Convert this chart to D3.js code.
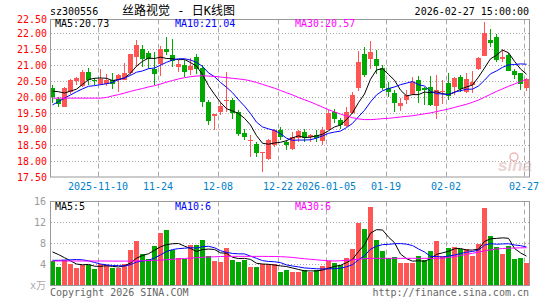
<!DOCTYPE html>
<html>
<head>
<meta charset="utf-8">
<script src="https://cdn.jsdelivr.net/npm/d3@7"></script>
<style>
body{margin:0;background:#fff;}
text{font-family:"DejaVu Sans Mono",monospace;font-size:10px;}
</style>
</head>
<body>
<div id="chart"></div>
<script>
// daily k-line, 80 trading days up to 2026-02-27
var open = [20.31,19.94,19.73,20.18,20.52,20.35,20.79,20.54,20.44,20.44,
  20.56,20.55,20.56,20.75,21.27,21.50,21.40,20.90,21.06,21.53,
  21.34,20.96,21.03,20.86,21.27,20.93,19.85,19.42,19.55,19.90,
  19.92,19.55,18.89,18.66,18.56,18.26,18.09,18.51,19.00,18.61,
  18.40,18.75,18.93,18.75,18.82,18.66,19.00,19.55,19.29,19.10,
  19.50,20.30,21.37,21.20,21.20,20.92,20.30,20.15,19.74,19.92,
  20.12,20.54,20.30,20.33,19.74,20.17,20.44,20.33,20.64,20.17,
  20.40,20.90,21.32,21.79,21.89,21.22,21.34,20.82,20.78,20.28];
var close = [20.02,19.79,20.31,20.56,20.61,20.79,20.54,20.50,20.59,20.56,
  20.44,20.70,20.77,21.35,21.63,21.19,21.22,20.73,21.53,21.43,
  21.16,21.05,20.80,21.00,20.90,19.86,19.27,19.48,19.73,19.92,
  19.50,18.85,18.77,18.68,18.27,18.30,18.67,18.98,18.77,18.51,
  18.77,18.96,18.75,18.82,18.72,19.00,19.52,19.34,19.13,19.55,
  20.07,21.11,20.70,21.42,20.99,20.30,20.17,19.84,19.84,20.09,
  20.49,20.20,20.23,19.76,20.23,20.20,20.02,20.61,20.26,20.57,
  20.50,21.24,22.03,21.69,21.16,21.27,20.85,20.70,20.44,20.57];
var high = [20.38,20.02,20.33,20.58,20.65,20.85,20.93,20.60,20.90,20.75,
  20.77,20.72,21.08,21.37,21.79,21.63,21.46,21.43,21.60,21.89,
  21.84,21.16,21.18,21.25,21.37,21.03,19.92,19.50,19.86,20.80,
  19.97,19.60,19.03,18.82,18.61,18.30,18.69,19.03,19.08,18.66,
  18.93,18.98,19.03,18.87,18.98,19.08,19.60,19.65,19.37,19.71,
  20.18,21.45,21.58,21.76,21.48,21.03,20.47,20.23,19.97,20.23,
  20.64,20.66,20.33,20.68,20.70,20.54,20.78,20.64,20.70,20.78,
  20.82,21.27,22.36,22.13,22.00,21.53,21.40,20.90,20.78,20.61];
var low = [19.83,19.69,19.69,20.12,20.38,20.33,20.38,20.38,20.38,20.36,
  20.28,20.18,20.54,20.70,20.96,20.96,20.90,20.38,20.66,21.32,
  20.96,20.80,20.64,20.70,20.75,19.70,19.13,19.00,19.45,19.55,
  19.34,18.79,18.66,18.14,18.14,17.68,18.04,18.46,18.66,18.35,
  18.37,18.61,18.61,18.61,18.61,18.51,18.98,19.21,19.03,19.08,
  19.48,20.20,20.64,20.90,20.75,20.23,20.02,19.55,19.57,19.81,
  20.07,19.84,19.76,19.74,19.34,19.81,19.91,20.07,20.17,20.15,
  20.15,20.85,21.30,21.58,21.11,21.11,20.82,20.59,20.23,20.20];
var ma5 = [20.20,20.18,20.14,20.20,20.26,20.41,20.56,20.60,20.61,20.60,
  20.53,20.56,20.61,20.76,20.98,21.13,21.23,21.22,21.26,21.22,
  21.21,21.18,21.19,21.09,20.98,20.72,20.37,20.10,19.85,19.65,
  19.58,19.50,19.35,19.14,18.81,18.57,18.54,18.58,18.60,18.65,
  18.74,18.80,18.75,18.76,18.80,18.85,18.96,19.08,19.14,19.31,
  19.52,19.84,20.11,20.57,20.86,20.90,20.72,20.54,20.23,20.05,
  20.09,20.09,20.17,20.15,20.18,20.12,20.09,20.16,20.26,20.33,
  20.39,20.64,20.92,21.21,21.32,21.48,21.40,21.13,20.89,20.73];
var ma10 = [19.77,19.87,19.98,20.08,20.18,20.27,20.35,20.37,20.40,20.43,
  20.47,20.56,20.61,20.69,20.79,20.83,20.90,20.92,21.01,21.10,
  21.17,21.21,21.21,21.17,21.10,20.97,20.77,20.65,20.47,20.32,
  20.15,19.93,19.73,19.50,19.23,19.08,19.02,18.97,18.87,18.73,
  18.66,18.67,18.67,18.68,18.73,18.80,18.88,18.92,18.95,19.06,
  19.19,19.40,19.60,19.86,20.08,20.21,20.28,20.33,20.40,20.45,
  20.50,20.40,20.36,20.19,20.12,20.11,20.09,20.17,20.21,20.26,
  20.26,20.36,20.54,20.74,20.83,20.94,21.02,21.03,21.05,21.04];
var ma30 = [19.98,19.98,19.98,19.98,19.98,19.98,19.98,19.98,19.98,20.00,
  20.05,20.09,20.14,20.19,20.24,20.28,20.33,20.37,20.42,20.48,
  20.53,20.58,20.62,20.65,20.67,20.68,20.67,20.66,20.64,20.62,
  20.60,20.58,20.56,20.52,20.47,20.41,20.35,20.29,20.22,20.15,
  20.08,20.00,19.93,19.86,19.78,19.70,19.62,19.55,19.48,19.42,
  19.37,19.33,19.31,19.31,19.32,19.34,19.35,19.37,19.39,19.41,
  19.43,19.46,19.49,19.52,19.56,19.60,19.64,19.69,19.74,19.79,
  19.85,19.92,20.01,20.10,20.19,20.27,20.35,20.42,20.50,20.57];

// volume, unit 万
var vol = [4.57,3.43,4.70,4.06,3.24,3.81,3.81,2.99,3.94,3.81,
  3.18,3.30,4.06,6.61,8.33,5.85,4.89,7.43,9.85,10.42,
  6.73,5.08,4.95,7.56,7.62,8.50,5.58,4.57,4.38,7.11,
  4.76,4.38,4.70,3.43,3.43,4.06,4.06,4.00,2.55,2.80,
  2.55,2.55,2.80,2.55,2.90,3.60,4.50,4.20,3.80,5.20,
  6.80,11.90,10.60,14.90,8.50,6.50,5.10,5.30,4.10,4.10,
  4.10,5.50,4.80,6.50,8.30,5.50,7.00,7.20,6.80,6.80,
  5.50,7.80,14.60,9.30,7.20,6.00,7.40,4.90,5.10,4.10];
var vma5 = [6.30,5.80,5.20,4.60,4.00,3.85,3.92,3.58,3.56,3.67,
  3.55,3.44,3.66,4.19,5.10,5.63,5.95,6.62,7.27,7.69,
  7.86,7.90,7.41,6.95,6.39,6.74,6.84,6.77,6.13,6.03,
  5.28,5.04,5.07,4.88,4.14,4.00,3.94,3.80,3.64,3.52,
  3.24,2.96,2.69,2.69,2.67,2.86,3.22,3.53,3.75,4.26,
  4.90,6.38,7.66,9.88,10.54,10.48,9.12,8.06,5.90,5.02,
  4.54,4.62,4.52,5.00,5.84,6.12,6.42,6.90,6.96,6.66,
  6.66,6.82,8.30,8.80,8.88,8.98,8.90,6.96,6.12,5.50];
var vma10 = [4.70,4.70,4.75,4.80,4.85,4.80,4.60,4.30,4.00,3.84,
  3.70,3.68,3.62,3.88,4.38,4.59,4.70,5.14,5.73,6.39,
  6.75,6.93,7.01,7.11,7.04,7.30,7.37,7.09,6.54,6.21,
  6.01,5.94,5.92,5.50,5.08,4.64,4.49,4.43,4.26,3.83,
  3.62,3.45,3.25,3.17,3.09,3.05,3.09,3.11,3.22,3.47,
  3.88,4.80,5.59,6.82,7.40,7.69,7.75,7.86,7.89,7.78,
  7.51,6.87,6.29,5.45,5.43,5.33,5.52,5.71,5.98,6.25,
  6.39,6.62,7.60,7.88,7.77,7.82,7.86,7.63,7.50,7.23];
var vma30 = [4.57,4.57,4.57,4.57,4.57,4.57,4.57,4.57,4.57,4.57,
  4.55,4.55,4.55,4.55,4.58,4.62,4.66,4.70,4.75,4.82,
  4.90,4.98,5.05,5.12,5.20,5.28,5.33,5.38,5.42,5.45,
  5.46,5.46,5.46,5.45,5.45,5.45,5.44,5.43,5.40,5.34,
  5.25,5.12,5.00,4.90,4.80,4.70,4.62,4.57,4.62,4.70,
  4.80,4.90,5.00,5.08,5.08,5.08,5.08,5.08,5.08,5.08,
  5.08,5.08,5.08,5.08,5.08,5.10,5.25,5.40,5.60,5.85,
  6.05,6.25,6.50,6.70,6.85,6.95,7.00,7.05,7.08,7.10];

var tickIdx = [8,18,28,38,46,56,66,79];
var tickLabels = ["2025-11-10","11-24","12-08","12-22","2026-01-05","01-19","02-02","02-27"];
var priceTicks = [17.5,18,18.5,19,19.5,20,20.5,21,21.5,22,22.5];
var volTicks = [4,8,12,16];

var RED = "#ff5555", GREEN = "#00a800", GRID = "#aaa";

var svg = d3.select('#chart').append('svg')
  .attr('width', 545).attr('height', 300);

var x = d3.scaleLinear().domain([0, 80]).range([50, 530]);
var y = d3.scaleLinear().domain([17.5, 22.5]).range([177.5, 17.5]);
var yv = d3.scaleLinear().domain([0, 16]).range([285, 201]);

function up(i){ return close[i] >= open[i]; }

// ---- header
svg.append("text").attr("x", 50).attr("y", 15).text("sz300556");
svg.append("text").attr("x", 122).attr("y", 15)
  .style("font-family", '"DejaVu Sans Mono","Noto Sans CJK SC",monospace')
  .style("font-size", "12px")
  .text("丝路视觉 - 日K线图");
svg.append("text").attr("x", 529).attr("y", 15).attr("text-anchor", "end")
  .text("2026-02-27 15:00:00");

// ---- grids
var grid = svg.append("g").attr("stroke", GRID).attr("fill", "none");
grid.selectAll(".hp").data(priceTicks.slice(1, -1)).enter().append("line")
  .attr("x1", 51).attr("x2", 529)
  .attr("y1", function(d){ return y(d); }).attr("y2", function(d){ return y(d); })
  .attr("stroke-dasharray", "1,2");
grid.selectAll(".hv").data(volTicks.slice(0, -1)).enter().append("line")
  .attr("x1", 51).attr("x2", 529)
  .attr("y1", function(d){ return yv(d) + 0.5; }).attr("y2", function(d){ return yv(d) + 0.5; })
  .attr("stroke-dasharray", "1,2");
[[19.5, 177], [201.5, 285]].forEach(function(r){
  grid.selectAll(null).data(tickIdx).enter().append("line")
    .attr("x1", function(d){ return x(d) + 0.5; }).attr("x2", function(d){ return x(d) + 0.5; })
    .attr("y1", r[0]).attr("y2", r[1])
    .attr("stroke-dasharray", "5,3");
});

// sina watermark
var wm = svg.append("g").attr("opacity", 0.55);
wm.append("text").attr("x", 498).attr("y", 171)
  .style("font-family", "Liberation Sans,Arial,sans-serif")
  .style("font-size", "17px").style("font-style", "italic").style("font-weight", "bold")
  .attr("fill", "#d8b0b0").text("sina");
wm.append("circle").attr("cx", 514).attr("cy", 157).attr("r", 4)
  .attr("fill", "none").attr("stroke", "#e08080").attr("stroke-width", 1.5);

// ---- candles
var idx = d3.range(close.length);
var cg = svg.append("g");
cg.selectAll(".wick").data(idx).enter().append("line")
  .attr("x1", function(i){ return x(i) + 2.5; }).attr("x2", function(i){ return x(i) + 2.5; })
  .attr("y1", function(i){ return y(high[i]); }).attr("y2", function(i){ return y(low[i]); })
  .attr("stroke", function(i){ return up(i) ? RED : GREEN; })
  .attr("shape-rendering", "crispEdges");
cg.selectAll(".body").data(idx).enter().append("rect")
  .attr("x", function(i){ return x(i); })
  .attr("width", 5)
  .attr("y", function(i){ return Math.round(y(Math.max(open[i], close[i]))); })
  .attr("height", function(i){ return Math.max(1, Math.round(Math.abs(y(open[i]) - y(close[i])))); })
  .attr("fill", function(i){ return up(i) ? RED : GREEN; })
  .attr("shape-rendering", "crispEdges");

// ---- volume bars
svg.append("g").selectAll("rect").data(idx).enter().append("rect")
  .attr("x", function(i){ return x(i); })
  .attr("width", 5)
  .attr("y", function(i){ return Math.round(yv(vol[i])); })
  .attr("height", function(i){ return 285 - Math.round(yv(vol[i])); })
  .attr("fill", function(i){ return up(i) ? RED : GREEN; })
  .attr("shape-rendering", "crispEdges");

// ---- ma lines
function maLine(sc){
  return d3.line().x(function(d, i){ return x(i) + 2.5; }).y(function(d){ return sc(d); });
}
[[ma5, "#000"], [ma10, "#0000ff"], [ma30, "#ff00ff"]].forEach(function(m){
  svg.append("path").attr("d", maLine(y)(m[0]))
    .attr("fill", "none").attr("stroke", m[1]).attr("stroke-width", 1);
});
[[vma5, "#000"], [vma10, "#0000ff"], [vma30, "#ff00ff"]].forEach(function(m){
  svg.append("path").attr("d", maLine(yv)(m[0]))
    .attr("fill", "none").attr("stroke", m[1]).attr("stroke-width", 1);
});

// ---- frames
svg.append("rect").attr("x", 50.5).attr("y", 19.5).attr("width", 479).attr("height", 157.5)
  .attr("fill", "none").attr("stroke", "#999");
svg.append("rect").attr("x", 50.5).attr("y", 201.5).attr("width", 479).attr("height", 84)
  .attr("fill", "none").attr("stroke", "#999");

// ---- axis labels
svg.selectAll(".py").data(priceTicks).enter().append("text")
  .attr("x", 47).attr("y", function(d){ return Math.max(y(d), 19) + 3.8; })
  .attr("text-anchor", "end").attr("fill", "#f00")
  .text(function(d){ return d.toFixed(2); });
svg.selectAll(".vy").data(volTicks).enter().append("text")
  .attr("x", 46).attr("y", function(d){ return yv(d) + 3.7; })
  .attr("text-anchor", "end").attr("fill", "#999")
  .text(function(d){ return d; });
svg.append("text").attr("x", 46).attr("y", 289).attr("text-anchor", "end")
  .attr("fill", "#aaa")
  .style("font-family", '"DejaVu Sans Mono","Noto Sans CJK SC",monospace')
  .text("x万");
svg.selectAll(".xl").data(tickIdx).enter().append("text")
  .attr("x", function(d){ return x(d); }).attr("y", 190)
  .attr("text-anchor", "middle").attr("fill", "#0080cc")
  .text(function(d, i){ return tickLabels[i]; });

// ---- ma legends
var legP = [["MA5:20.73", "#000", 55], ["MA10:21.04", "#0000ff", 175], ["MA30:20.57", "#ff00ff", 295]];
var legV = [["MA5:5", "#000", 55], ["MA10:6", "#0000ff", 175], ["MA30:6", "#ff00ff", 295]];
legP.forEach(function(l){
  svg.append("text").attr("x", l[2]).attr("y", 27).attr("fill", l[1]).text(l[0]);
});
legV.forEach(function(l){
  svg.append("text").attr("x", l[2]).attr("y", 210).attr("fill", l[1]).text(l[0]);
});

// ---- footer
svg.append("text").attr("x", 50).attr("y", 296).attr("fill", "#666").text("Copyright 2026 SINA.COM");
svg.append("text").attr("x", 529).attr("y", 296).attr("text-anchor", "end").attr("fill", "#666")
  .text("http://finance.sina.com.cn");
</script>
</body>
</html>
